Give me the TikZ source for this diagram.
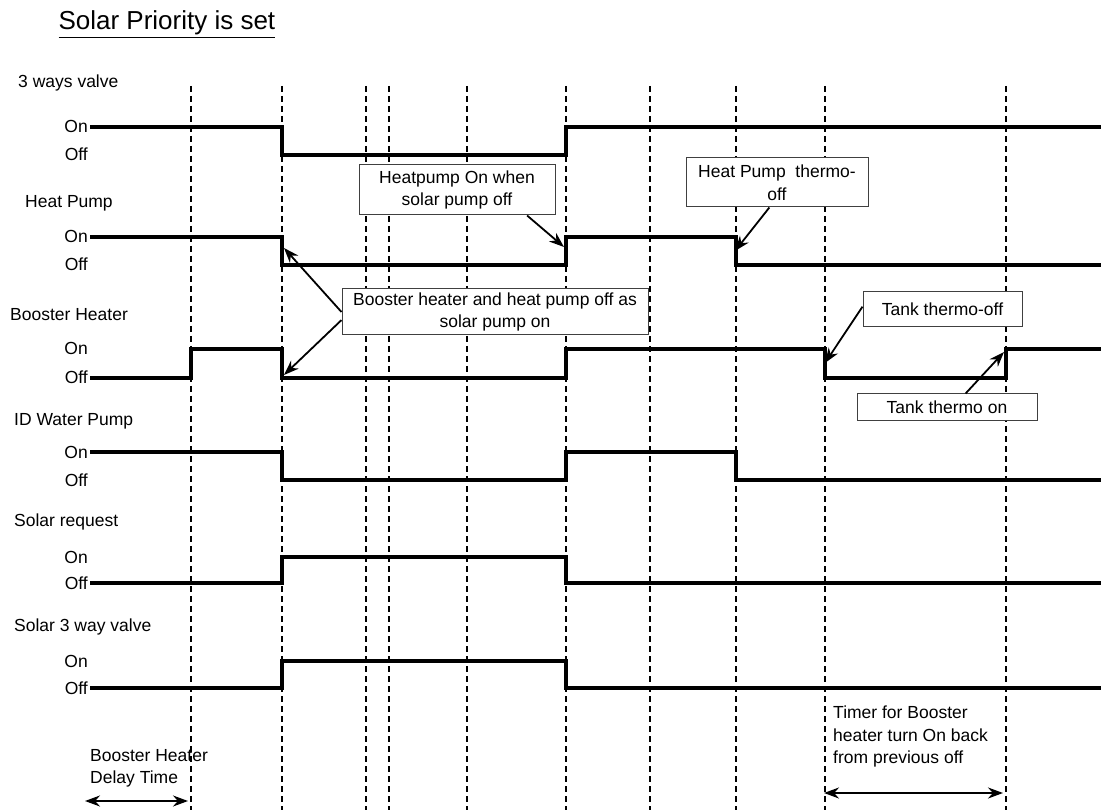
\documentclass[tikz,border=0pt]{standalone}
\usepackage{fontspec}
\setmainfont{Liberation Sans}
\usetikzlibrary{arrows.meta}
\begin{document}
\begin{tikzpicture}[x=1pt,y=-1pt,>={Stealth[length=15pt,width=11pt]},
  every node/.style={font=\fontsize{17.5}{22.5}\selectfont},
  wave/.style={line width=4pt},
  mark line/.style={line width=1.2pt,dash pattern=on 6pt off 4pt},
  note/.style={draw=black!75,line width=1pt,fill=white,align=center,inner xsep=5pt,inner ysep=2pt},
  ptr/.style={->,line width=1.8pt}]
\useasboundingbox (0,0) rectangle (1101,810);
\node[anchor=base west,font=\fontsize{26}{30}\selectfont] (title) at (55,30) {\underline{Solar Priority is set}};
\foreach \x in {191,282,366,389,467,566,650,736,825,1006}{\draw[mark line] (\x,86)--(\x,810);}
\foreach \x/\y/\t in {18/88/3 ways valve,25/208/Heat Pump,10/321/Booster Heater,14/425/ID Water Pump,14/526/Solar request,14/631/Solar 3 way valve}
  {\node[anchor=base west,inner sep=0] at (\x,\y) {\t};}
\foreach \on/\off in {127/155,237/265,349/378,452/480,557/583,661/688}{
  \node[anchor=base east,inner sep=0] at (88,\on+6) {On};
  \node[anchor=base east,inner sep=0] at (88,\off+6) {Off};}
\draw[wave] (90,127) -| (282,155) -| (566,127) -- (1101,127);
\draw[wave] (90,237) -| (282,265) -| (566,237) -| (736,265) -- (1101,265);
\draw[wave] (90,378) -| (191,349) -| (282,378) -| (566,349) -| (825,378) -| (1006,349) -- (1101,349);
\draw[wave] (90,452) -| (282,480) -| (566,452) -| (736,480) -- (1101,480);
\draw[wave] (90,583) -| (282,557) -| (566,583) -- (1101,583);
\draw[wave] (90,688) -| (282,661) -| (566,688) -- (1101,688);
\node[note,minimum width=196pt,minimum height=50pt] (hpon) at (457,190) {Heatpump On when\\solar pump off};
\node[note,minimum width=182pt,minimum height=49pt] (hpoff) at (777,182.5) {Heat Pump\ \ thermo-\\off};
\node[note,minimum width=306pt,minimum height=46pt] (booff) at (495,312) {Booster heater and heat pump off as\\solar pump on};
\node[note,minimum width=159pt,minimum height=35pt] (tkoff) at (942.5,309.5) {Tank thermo-off};
\node[note,minimum width=180pt,minimum height=26pt] (tkon) at (947,407) {Tank thermo on};
\coordinate (hpup) at (564,247);
\coordinate (hpdn) at (735,251);
\coordinate (hpoffa) at (284,248);
\coordinate (bhoffa) at (284,375);
\coordinate (bhoff) at (825,363);
\coordinate (bhon) at (1004,352);
\draw[ptr] (hpon.-20) -- (hpup);
\draw[ptr] (hpoff.253) -- (hpdn);
\draw[ptr] (booff.180) -- (hpoffa);
\draw[ptr] (booff.183) -- (bhoffa);
\draw[ptr] (tkoff.178) -- (bhoff);
\draw[ptr] (tkon.36) -- (bhon);
\node[anchor=north west,align=left,inner sep=0] (delay) at (90,749) {Booster Heater\\Delay Time};
\node[anchor=north west,align=left,inner sep=0] (timer) at (833,706) {Timer for Booster\\heater turn On back\\from previous off};
\coordinate (dl) at (85,801); \coordinate (dr) at (188,801);
\coordinate (tl) at (824,793); \coordinate (tr) at (1003,793);
\draw[<->,line width=1.8pt] (dl) -- (dr);
\draw[<->,line width=1.8pt] (tl) -- (tr);
\end{tikzpicture}
\end{document}
